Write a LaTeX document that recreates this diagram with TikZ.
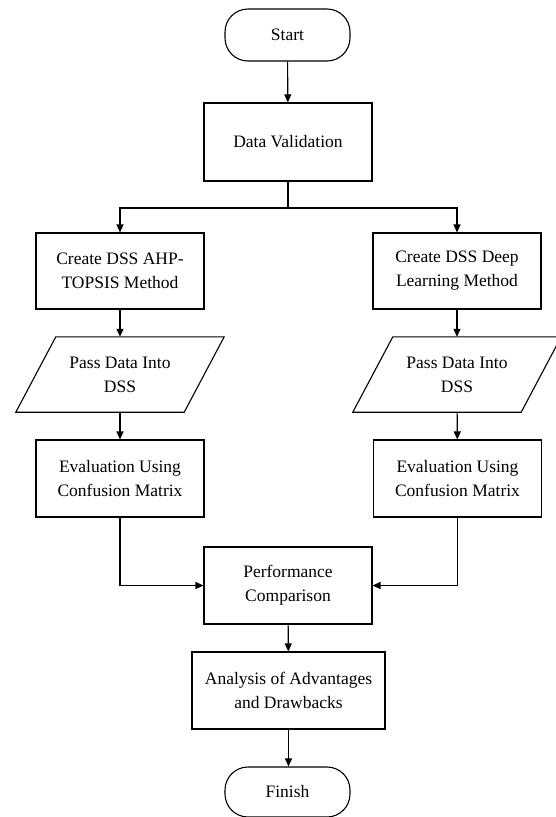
\documentclass[tikz,border=0pt]{standalone}
\usepackage{fontspec}
\setmainfont{Liberation Serif}
\usetikzlibrary{arrows.meta}
\begin{document}
\begin{tikzpicture}[x=1pt,y=1pt,
  every node/.style={font=\fontsize{17.5}{24}\selectfont, align=center, inner sep=0pt},
  box/.style={draw, line width=1.1pt, minimum width=168pt, minimum height=77pt},
  term/.style={draw, line width=1.1pt, rounded corners=23pt, minimum width=125pt, minimum height=52pt},
  io/.style={minimum width=168pt, minimum height=75pt},
  conn/.style={line width=1.1pt},
  arr/.style={line width=1.1pt, -{Triangle[length=8pt,width=7pt]}}]
\useasboundingbox (0,0) rectangle (556,-817);
\node[term] (start) at (287.5,-35) {Start};
\node[box, minimum height=78pt] (dv) at (288,-142) {Data Validation};
\coordinate (split) at (288,-208);
\node[box, minimum height=76pt] (cL) at (120,-271) {Create DSS AHP-\\TOPSIS Method};
\node[box, minimum height=76pt] (cR) at (457,-271) {Create DSS Deep\\Learning Method};
\node[io] (pL) at (120,-374.5) {Pass Data Into\\DSS};
\node[io] (pR) at (457,-374.5) {Pass Data Into\\DSS};
\draw[conn] ([xshift=20pt]pL.north west) -- ([xshift=20pt]pL.north east) -- ([xshift=-20pt]pL.south east) -- ([xshift=-20pt]pL.south west) -- cycle;
\draw[conn] ([xshift=20pt]pR.north west) -- ([xshift=20pt]pR.north east) -- ([xshift=-20pt]pR.south east) -- ([xshift=-20pt]pR.south west) -- cycle;
\node[box] (eL) at (120,-478.5) {Evaluation Using\\Confusion Matrix};
\node[box] (eR) at (457.5,-478.5) {Evaluation Using\\Confusion Matrix};
\node[box] (perf) at (288,-585.5) {Performance\\Comparison};
\node[box, minimum width=193pt] (an) at (288.5,-690.5) {Analysis of Advantages\\and Drawbacks};
\node[term, minimum height=50pt] (fin) at (287.5,-792) {Finish};
\draw[arr] (start) -- (dv);
\draw[conn] (dv.south) -- (split);
\draw[arr] (split) -| (cL.north);
\draw[arr] (split) -| (cR.north);
\draw[arr] (cL) -- (pL);
\draw[arr] (cR) -- (pR);
\draw[arr] (pL) -- (eL);
\draw[arr] (pR) -- (eR);
\draw[arr] (eL.south) |- (perf.west);
\draw[arr] (eR.south) |- (perf.east);
\draw[arr] (perf) -- (an);
\draw[arr] (an.south) -- (an.south |- fin.north);
\end{tikzpicture}
\end{document}
